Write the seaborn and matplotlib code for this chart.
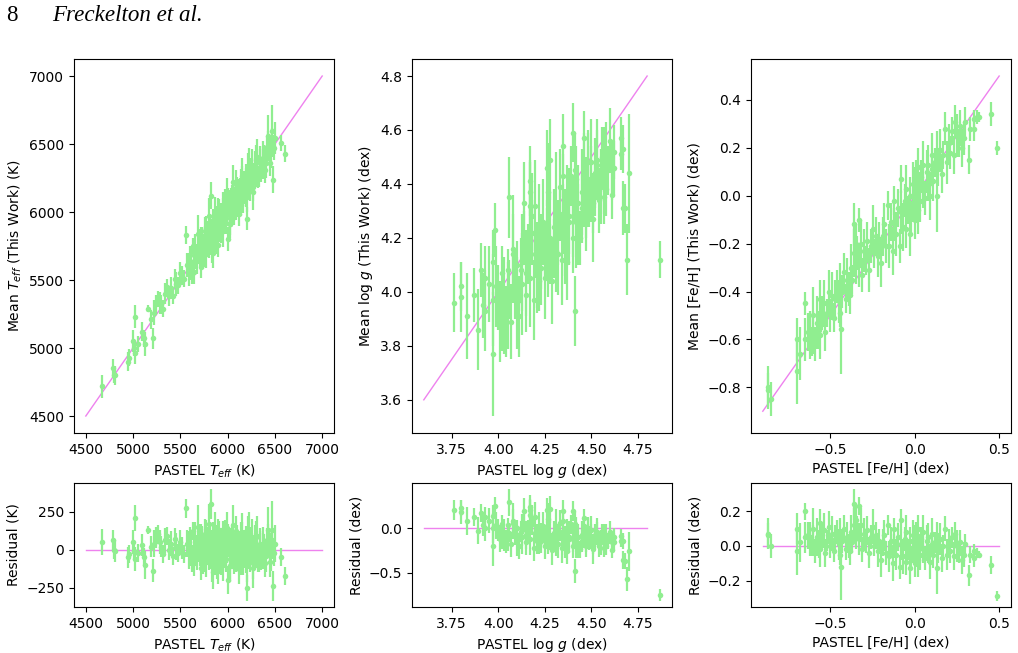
import matplotlib
matplotlib.use("Agg")
import matplotlib.pyplot as plt
import seaborn as sns
import numpy as np

# PASTEL value, residual (this work - PASTEL) and error of the mean
teff_pastel = [4670, 4790, 4800, 4810, 4950, 4960, 5000, 5010, 5020, 5022,
               5050, 5090, 5120, 5130, 5160, 5190, 5210, 5220, 5240, 5260,
               5280, 5300, 5320, 5340, 5360, 5380, 5400, 5420, 5440, 5450,
               5480, 5500, 5520, 5540, 5563, 5570,
               5581, 5589, 5602, 5611, 5618, 5630, 5641, 5648, 5660, 5669,
               5677, 5690, 5698, 5706, 5715, 5724, 5733, 5740, 5751, 5759,
               5768, 5776, 5785, 5820, 5803, 5811, 5819, 5850, 5836, 5845,
               5853, 5862, 5870, 5878, 5887, 5896, 5904, 5913, 5921, 5930,
               5938, 5947, 5955, 5964, 5972, 5981, 5990, 5998, 6002, 6015,
               6024, 6033, 6041, 6050, 6058, 6067, 6076, 6084, 6093, 6101,
               6110, 6119, 6128, 6136, 6145, 6154, 6162, 6171, 6180, 6189,
               6198, 6207, 6216, 6225, 6234, 6243, 6200, 6262, 6271, 6281,
               6292, 6303, 6315, 6327, 6340, 6354, 6369, 6385, 6402, 6420,
               6431, 6444, 6452, 6463, 6470, 6478, 6468, 6494, 6503,
               5703, 5722, 5745, 5763, 5781, 5798, 5815, 5833, 5850, 5868,
               5884, 5901, 5917, 5935, 5951, 5969, 5985, 6003, 6020, 6037,
               6054, 6071, 6088, 6105, 6122, 6139, 6157, 6175, 6193, 6211,
               6229, 6247, 6266, 6285, 6305, 6325, 6347, 6372, 6397, 6425,
               6560, 6605]
teff_resid = [50, 60, 0, -10, -50, -30, 50, -10, 210, -60,
              -20, 30, -50, -100, 130, 20, -140, 40, 80, 100,
              50, 20, -30, 60, 90, 0, 40, -40, 70, 20,
              -20, 50, 10, -30, 270, 40,
              40, -30, 80, 10, -60, 120, 0, -90, 50, 20,
              -40, 150, -10, 70, -120, 30, 90, -50, 0, 60,
              -80, 110, 20, 300, 170, -60, 40, -150, 10, 80,
              -30, 130, -70, 0, 50, -140, 90, 20, -50, 60,
              30, -90, 100, -20, 70, -60, 10, 140, -200, 50,
              -110, 20, 80, -30, 160, -70, 0, 60, -50, 90,
              -10, -130, 40, 70, -20, 110, -80, 30, -40, 20,
              60, -100, 10, 120, -60, 40, -250, 80, -90, 0,
              50, -30, 90, -70, 20, -50, 30, 10, -40, 60,
              130, -80, 20, -30, 60, -240, 130, -20, 40,
              -20, 60, -70, 100, 30, -40, 80, -100, 20, 50,
              -60, 110, 0, -80, 40, 70, -30, 90, -110, 10,
              60, -50, 120, -20, 30, -90, 70, 0, -60, 100,
              -40, 50, -120, 20, 80, -70, 40, -10, -90, 60,
              -50, -175]
teff_err = [85, 70, 60, 70, 70, 60, 80, 60, 85, 80,
            60, 70, 60, 90, 25, 70, 75, 90, 70, 60,
            80, 70, 60, 80, 60, 70, 80, 60, 70, 90,
            60, 80, 70, 60, 65, 90,
            80, 100, 70, 120, 90, 60, 110, 85, 130, 75,
            95, 140, 70, 100, 80, 120, 65, 110, 90, 75,
            100, 85, 120, 100, 130, 70, 90, 110, 80, 100,
            75, 120, 95, 70, 110, 85, 100, 130, 90, 80,
            70, 115, 90, 100, 125, 80, 95, 110, 90, 100,
            85, 120, 75, 100, 130, 90, 110, 80, 100, 70,
            120, 95, 85, 110, 75, 130, 90, 100, 80, 115,
            95, 110, 70, 125, 90, 100, 85, 120, 100, 80,
            110, 90, 130, 75, 100, 85, 120, 95, 110, 80,
            150, 100, 90, 110, 85, 100, 190, 90, 120,
            90, 110, 80, 100, 120, 95, 85, 110, 100, 75,
            130, 90, 100, 85, 110, 95, 120, 80, 100, 90,
            110, 85, 100, 120, 90, 80, 110, 100, 95, 120,
            85, 100, 130, 90, 110, 80, 100, 120, 90, 110,
            60, 60]

logg_pastel = [3.76, 3.80, 3.80, 3.83, 3.87, 3.89, 3.91, 3.92, 3.93, 3.93,
               3.95, 3.97, 3.97, 3.97, 3.98, 3.99, 4.02, 4.06, 4.14, 4.17,
               4.17, 4.17, 4.26, 4.28, 4.35, 4.40, 4.41, 4.46, 4.61, 4.62,
               4.66, 4.67, 4.66, 4.67, 4.68, 4.69, 4.70, 4.87,
               4.00, 4.01, 4.02, 4.03, 4.04, 4.05, 4.05, 4.06, 4.07, 4.08,
               4.09, 4.10, 4.10, 4.11, 4.12, 4.13, 4.14, 4.15, 4.15, 4.16,
               4.17, 4.18, 4.19, 4.20, 4.20, 4.21, 4.22, 4.22, 4.23, 4.24,
               4.25, 4.25, 4.26, 4.27, 4.27, 4.28, 4.29, 4.30, 4.30, 4.31,
               4.32, 4.32, 4.33, 4.34, 4.35, 4.35, 4.36, 4.37, 4.37, 4.38,
               4.39, 4.40, 4.40, 4.41, 4.42, 4.42, 4.43, 4.44, 4.45, 4.45,
               4.46, 4.47, 4.47, 4.48, 4.49, 4.50, 4.50, 4.51, 4.52, 4.52,
               4.53, 4.54, 4.55, 4.55, 4.56, 4.57, 4.57, 4.58, 4.59, 4.60,
               4.61, 4.62, 4.28, 4.33, 4.38, 4.43, 4.48, 4.53, 4.58, 4.18,
               4.23, 4.13, 4.08, 4.36, 4.46, 4.51, 4.41, 4.31, 4.26, 4.21]
logg_resid = [0.20, 0.22, 0.18, 0.08, 0.12, -0.03, 0.17, 0.03, 0.12, 0.00,
              0.08, 0.14, -0.20, 0.00, 0.25, 0.03, -0.11, 0.29, 0.19, 0.24,
              0.20, 0.15, 0.20, 0.21, 0.19, 0.19, -0.48, 0.11, -0.25, -0.16,
              -0.15, -0.14, -0.09, -0.36, -0.37, -0.57, -0.26, -0.75,
              -0.02, -0.12, 0.05, -0.08, -0.15, 0.03, -0.10, -0.05, -0.18, 0.08,
              -0.06, -0.14, 0.00, -0.20, -0.04, -0.10, 0.06, -0.16, -0.08, -0.02,
              -0.12, 0.04, -0.22, -0.06, 0.12, -0.14, -0.02, -0.18, -0.08, 0.02,
              -0.10, -0.20, -0.04, 0.10, -0.16, -0.12, -0.25, -0.06, -0.14, 0.02,
              -0.10, -0.18, -0.04, -0.22, -0.08, 0.08, -0.14, -0.02, -0.26, -0.10,
              0.04, -0.12, -0.20, -0.06, -0.16, 0.00, -0.10, -0.24, -0.08, -0.14,
              0.02, -0.12, -0.20, -0.06, -0.16, -0.10, -0.02, -0.18, -0.08, -0.14,
              -0.04, -0.20, -0.10, -0.16, -0.06, -0.12, -0.22, -0.08, -0.14, -0.04,
              -0.16, -0.10, -0.08, 0.06, -0.12, -0.18, 0.00, -0.06, -0.20, 0.10,
              -0.14, -0.02, 0.06, -0.20, -0.10, -0.24, 0.04, -0.16, -0.08, -0.12]
logg_err = [0.11, 0.09, 0.13, 0.16, 0.10, 0.15, 0.10, 0.12, 0.12, 0.15,
            0.14, 0.12, 0.23, 0.17, 0.10, 0.15, 0.13, 0.15, 0.15, 0.13,
            0.12, 0.16, 0.14, 0.15, 0.12, 0.11, 0.13, 0.10, 0.09, 0.10,
            0.06, 0.09, 0.08, 0.10, 0.09, 0.13, 0.22, 0.07,
            0.12, 0.15, 0.10, 0.18, 0.13, 0.08, 0.16, 0.11, 0.14, 0.20,
            0.13, 0.17, 0.09, 0.15, 0.12, 0.19, 0.10, 0.14, 0.16, 0.11,
            0.18, 0.12, 0.15, 0.09, 0.17, 0.13, 0.20, 0.11, 0.14, 0.16,
            0.10, 0.15, 0.12, 0.18, 0.13, 0.09, 0.16, 0.14, 0.11, 0.19,
            0.12, 0.15, 0.10, 0.17, 0.13, 0.08, 0.16, 0.12, 0.14, 0.18,
            0.11, 0.15, 0.13, 0.09, 0.17, 0.12, 0.14, 0.10, 0.16, 0.13,
            0.11, 0.15, 0.12, 0.18, 0.09, 0.14, 0.16, 0.11, 0.13, 0.10,
            0.15, 0.12, 0.08, 0.14, 0.11, 0.16, 0.10, 0.13, 0.09, 0.12,
            0.11, 0.10, 0.17, 0.14, 0.12, 0.15, 0.11, 0.13, 0.10, 0.16,
            0.14, 0.18, 0.15, 0.13, 0.12, 0.16, 0.14, 0.15, 0.13, 0.17]

feh_pastel = [-0.87, -0.87, -0.85, -0.70, -0.70, -0.68, -0.65, -0.65, -0.63, -0.62,
              -0.61, -0.60, -0.60, -0.59, -0.58, -0.57, -0.56, -0.56, -0.55, -0.54,
              -0.53, -0.52, -0.51, -0.50, -0.49, -0.48, -0.47, -0.46, -0.45, -0.44,
              -0.44, -0.435, -0.43, -0.42, -0.41, -0.40, -0.39, -0.385, -0.38, -0.37,
              -0.36, -0.36, -0.35, -0.35, -0.34, -0.33, -0.33, -0.32, -0.31, -0.30,
              -0.29, -0.28, -0.27, -0.26, -0.25, -0.24, -0.23, -0.22, -0.21, -0.20,
              -0.19, -0.18, -0.17, -0.16, -0.15, -0.14, -0.13, -0.12, -0.12, -0.11,
              -0.10, -0.09, -0.08, -0.08, -0.07, -0.06, -0.05, -0.05, -0.04, -0.03,
              -0.03, -0.02, -0.01, -0.01, 0.00, 0.00, 0.01, 0.01, 0.02, 0.02,
              0.03, 0.03, 0.04, 0.05, 0.05, 0.06, 0.07, 0.08, 0.08, 0.09,
              0.10, 0.10, 0.11, 0.12, 0.13, 0.13, 0.14, 0.15, 0.16, 0.17,
              0.18, 0.19, 0.20, 0.21, 0.22, 0.23, 0.24, 0.25, 0.26, 0.27,
              0.28, 0.29, 0.30, 0.32, 0.33, 0.35, 0.35, 0.37, 0.38, 0.45,
              0.49]
feh_resid = [0.07, 0.06, 0.00, 0.10, -0.03, 0.02, 0.20, 0.05, 0.06, 0.04,
             0.00, 0.03, 0.10, -0.03, 0.05, 0.01, 0.13, -0.02, 0.06, 0.09,
             -0.04, 0.03, 0.11, 0.00, 0.07, -0.03, 0.04, 0.08, 0.01, -0.05,
             0.06, -0.12, 0.03, 0.10, -0.02, 0.05, 0.00, -0.03, 0.08, 0.02,
             0.24, 0.12, 0.15, 0.06, 0.10, 0.23, 0.04, 0.12, -0.02, 0.07,
             0.02, 0.09, -0.04, 0.05, 0.11, 0.00, 0.06, -0.03, 0.03, -0.08,
             0.02, 0.06, -0.04, 0.12, -0.06, 0.03, -0.10, 0.00, 0.10, -0.05,
             0.05, -0.12, 0.15, 0.01, -0.06, 0.04, -0.09, 0.08, -0.02, -0.13,
             0.03, -0.07, 0.06, -0.04, 0.02, -0.10, 0.07, -0.03, 0.10, -0.08,
             0.01, -0.05, 0.04, -0.02, 0.08, -0.07, 0.03, -0.04, 0.05, -0.09,
             0.01, 0.07, -0.05, 0.02, -0.13, 0.06, -0.03, 0.04, -0.07, 0.00,
             0.10, -0.05, 0.02, -0.03, 0.05, -0.06, 0.07, 0.00, -0.04, 0.02,
             -0.08, -0.05, 0.01, -0.17, -0.05, -0.03, -0.07, -0.04, -0.05, -0.11,
             -0.29]
feh_err = [0.09, 0.07, 0.07, 0.09, 0.14, 0.11, 0.05, 0.09, 0.08, 0.10,
           0.06, 0.09, 0.12, 0.07, 0.11, 0.08, 0.08, 0.10, 0.07, 0.10,
           0.08, 0.06, 0.09, 0.07, 0.10, 0.06, 0.08, 0.07, 0.09, 0.06,
           0.10, 0.19, 0.07, 0.08, 0.06, 0.09, 0.07, 0.08, 0.10, 0.06,
           0.09, 0.10, 0.08, 0.08, 0.07, 0.05, 0.09, 0.10, 0.07, 0.09,
           0.06, 0.08, 0.09, 0.07, 0.10, 0.06, 0.08, 0.09, 0.07, 0.10,
           0.08, 0.09, 0.07, 0.06, 0.09, 0.08, 0.10, 0.07, 0.06, 0.09,
           0.08, 0.07, 0.06, 0.09, 0.10, 0.07, 0.08, 0.10, 0.06, 0.09,
           0.08, 0.07, 0.09, 0.06, 0.10, 0.08, 0.07, 0.09, 0.08, 0.10,
           0.06, 0.09, 0.07, 0.08, 0.10, 0.07, 0.09, 0.06, 0.08, 0.10,
           0.07, 0.09, 0.08, 0.06, 0.15, 0.08, 0.07, 0.09, 0.08, 0.06,
           0.07, 0.09, 0.08, 0.07, 0.06, 0.08, 0.07, 0.09, 0.06, 0.07,
           0.08, 0.07, 0.06, 0.06, 0.05, 0.04, 0.05, 0.03, 0.02, 0.05,
           0.03]

# one-to-one reference lines
teff_line = [4500, 7000]
logg_line = [3.6, 4.8]
feh_line = [-0.9, 0.5]

panels = [
    (teff_pastel, teff_resid, teff_err, teff_line,
     "Mean $T_{eff}$ (This Work) (K)", "PASTEL $T_{eff}$ (K)", "Residual (K)",
     [4500, 5000, 5500, 6000, 6500, 7000], [4500, 5000, 5500, 6000, 6500, 7000], [-250, 0, 250]),
    (logg_pastel, logg_resid, logg_err, logg_line,
     "Mean log $g$ (This Work) (dex)", "PASTEL log $g$ (dex)", "Residual (dex)",
     [3.75, 4.0, 4.25, 4.5, 4.75], [3.6, 3.8, 4.0, 4.2, 4.4, 4.6, 4.8], [-0.5, 0.0]),
    (feh_pastel, feh_resid, feh_err, feh_line,
     "Mean [Fe/H] (This Work) (dex)", "PASTEL [Fe/H] (dex)", "Residual (dex)",
     [-0.5, 0.0, 0.5], [-0.8, -0.6, -0.4, -0.2, 0.0, 0.2, 0.4], [-0.2, 0.0, 0.2]),
]

plt.rcParams['font.size'] = 10
fig = plt.figure(figsize=(10.18, 6.53), dpi=100)

lefts = [0.0727, 0.4047, 0.7377]
pt_col = "lightgreen"
line_col = "violet"

for left, (pastel, resid, err, line, ylab, xlab, rlab, xt, yt, rt) in zip(lefts, panels):
    pastel = np.array(pastel)
    resid = np.array(resid)
    mean = pastel + resid

    ax = fig.add_axes([left, 0.3369, 0.2554, 0.5727])
    sns.lineplot(x=line, y=line, ax=ax, color=line_col, lw=1, zorder=1)
    ax.errorbar(pastel, mean, yerr=err, fmt='none', ecolor=pt_col, elinewidth=1.6, zorder=2)
    sns.scatterplot(x=pastel, y=mean, ax=ax, color=pt_col, s=16, linewidth=0, zorder=3)
    ax.set_xticks(xt)
    ax.set_yticks(yt)
    ax.set_xlabel(xlab)
    ax.set_ylabel(ylab)

    axr = fig.add_axes([left, 0.0704, 0.2554, 0.1899])
    sns.lineplot(x=line, y=[0, 0], ax=axr, color=line_col, lw=1, zorder=1)
    axr.errorbar(pastel, resid, yerr=err, fmt='none', ecolor=pt_col, elinewidth=1.6, zorder=2)
    sns.scatterplot(x=pastel, y=resid, ax=axr, color=pt_col, s=16, linewidth=0, zorder=3)
    axr.set_xticks(xt)
    axr.set_yticks(rt)
    axr.set_xlim(ax.get_xlim())
    axr.set_xlabel(xlab)
    axr.set_ylabel(rlab)

fig.text(0.006, 0.976, "8", family="Liberation Serif", fontsize=16.6, va="center")
fig.text(0.051, 0.976, "Freckelton et al.", family="Liberation Serif", style="italic",
         fontsize=16.6, va="center")

fig.savefig("out.png", dpi=100)
